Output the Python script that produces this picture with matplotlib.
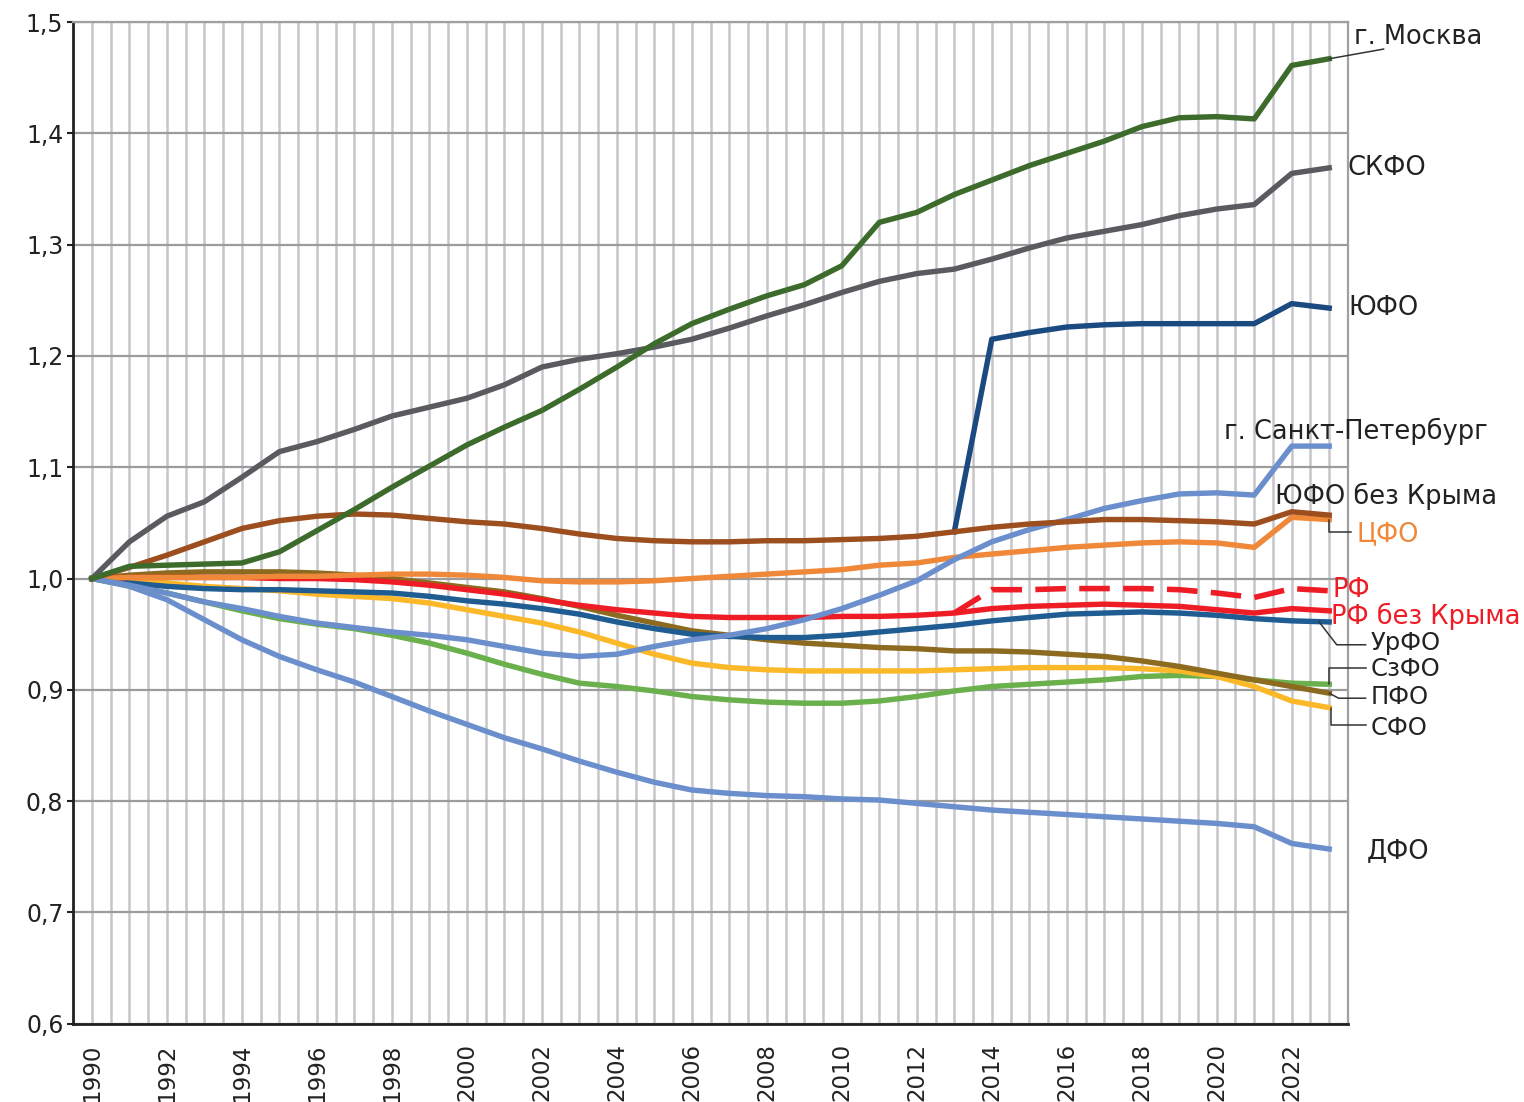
import numpy as np
import matplotlib
matplotlib.use("Agg")
import matplotlib.pyplot as plt
from matplotlib.ticker import MultipleLocator, FuncFormatter

plt.rcParams['font.family'] = ['DejaVu Sans']

years = list(range(1990, 2024))

# индексы численности населения, 1990 = 1
moscow = [1.000, 1.011, 1.012, 1.013, 1.014, 1.024, 1.043, 1.062, 1.082, 1.101, 1.120,
          1.136, 1.151, 1.170, 1.190, 1.211, 1.229, 1.242, 1.254, 1.264, 1.281,
          1.320, 1.329, 1.345, 1.358, 1.371, 1.382, 1.393, 1.406, 1.414, 1.415, 1.413, 1.461, 1.467]
skfo = [1.000, 1.033, 1.056, 1.069, 1.091, 1.114, 1.123, 1.134, 1.146, 1.154, 1.162,
        1.174, 1.190, 1.197, 1.202, 1.208, 1.215, 1.225, 1.236, 1.246, 1.257,
        1.267, 1.274, 1.278, 1.287, 1.297, 1.306, 1.312, 1.318, 1.326, 1.332, 1.336, 1.364, 1.369]
yufo = [None] * 23 + [1.042, 1.215, 1.221, 1.226, 1.228, 1.229, 1.229, 1.229, 1.229, 1.247, 1.243]
spb = [1.000, 0.994, 0.987, 0.979, 0.973, 0.966, 0.960, 0.956, 0.952, 0.949, 0.945,
       0.939, 0.933, 0.930, 0.932, 0.939, 0.945, 0.949, 0.955, 0.963, 0.973,
       0.985, 0.998, 1.017, 1.033, 1.044, 1.053, 1.063, 1.070, 1.076, 1.077, 1.075, 1.119, 1.119]
yufo_bk = [1.000, 1.010, 1.021, 1.033, 1.045, 1.052, 1.056, 1.058, 1.057, 1.054, 1.051,
           1.049, 1.045, 1.040, 1.036, 1.034, 1.033, 1.033, 1.034, 1.034, 1.035,
           1.036, 1.038, 1.042, 1.046, 1.049, 1.051, 1.053, 1.053, 1.052, 1.051, 1.049, 1.060, 1.057]
cfo = [1.000, 1.001, 1.001, 1.001, 1.001, 1.002, 1.002, 1.003, 1.004, 1.004, 1.003,
       1.001, 0.998, 0.997, 0.997, 0.998, 1.000, 1.002, 1.004, 1.006, 1.008,
       1.012, 1.014, 1.019, 1.022, 1.025, 1.028, 1.030, 1.032, 1.033, 1.032, 1.028, 1.055, 1.053]
rf = [None] * 23 + [0.969, 0.990, 0.990, 0.991, 0.991, 0.991, 0.990, 0.987, 0.983, 0.991, 0.989]
rf_bk = [1.000, 1.001, 1.001, 1.001, 1.001, 1.000, 1.000, 0.999, 0.997, 0.994, 0.990,
         0.986, 0.981, 0.976, 0.972, 0.969, 0.966, 0.965, 0.965, 0.965, 0.966,
         0.966, 0.967, 0.969, 0.973, 0.975, 0.976, 0.977, 0.976, 0.975, 0.972, 0.969, 0.973, 0.971]
urfo = [1.000, 0.996, 0.993, 0.991, 0.990, 0.990, 0.989, 0.988, 0.987, 0.984, 0.980,
        0.977, 0.973, 0.968, 0.961, 0.955, 0.950, 0.948, 0.947, 0.947, 0.949,
        0.952, 0.955, 0.958, 0.962, 0.965, 0.968, 0.969, 0.970, 0.969, 0.967, 0.964, 0.962, 0.961]
szfo = [1.000, 0.994, 0.987, 0.979, 0.971, 0.964, 0.959, 0.955, 0.949, 0.942, 0.933,
        0.923, 0.914, 0.906, 0.903, 0.899, 0.894, 0.891, 0.889, 0.888, 0.888,
        0.890, 0.894, 0.899, 0.903, 0.905, 0.907, 0.909, 0.912, 0.913, 0.912, 0.909, 0.906, 0.905]
pfo = [1.000, 1.003, 1.005, 1.006, 1.006, 1.006, 1.005, 1.003, 1.000, 0.996, 0.992,
       0.988, 0.982, 0.975, 0.967, 0.960, 0.953, 0.949, 0.945, 0.942, 0.940,
       0.938, 0.937, 0.935, 0.935, 0.934, 0.932, 0.930, 0.926, 0.921, 0.915, 0.909, 0.903, 0.897]
sfo = [1.000, 0.999, 0.996, 0.993, 0.991, 0.989, 0.986, 0.984, 0.982, 0.978, 0.972,
       0.966, 0.960, 0.952, 0.942, 0.932, 0.924, 0.920, 0.918, 0.917, 0.917,
       0.917, 0.917, 0.918, 0.919, 0.920, 0.920, 0.920, 0.919, 0.917, 0.912, 0.903, 0.890, 0.884]
dfo = [1.000, 0.993, 0.981, 0.963, 0.945, 0.930, 0.918, 0.907, 0.894, 0.881, 0.869,
       0.857, 0.847, 0.836, 0.826, 0.817, 0.810, 0.807, 0.805, 0.804, 0.802,
       0.801, 0.798, 0.795, 0.792, 0.790, 0.788, 0.786, 0.784, 0.782, 0.780, 0.777, 0.762, 0.757]

# (данные, цвет, пунктир) в порядке отрисовки
series = [
    (dfo, '#6b8fcc', False),
    (szfo, '#6ab04c', False),
    (sfo, '#fbb829', False),
    (pfo, '#8c6a1f', False),
    (urfo, '#1f5c91', False),
    (rf_bk, '#ee1c25', False),
    (rf, '#ee1c25', True),
    (cfo, '#f0883a', False),
    (spb, '#6b8fcc', False),
    (yufo, '#1b4a80', False),
    (yufo_bk, '#9c4e1e', False),
    (skfo, '#5a5b5f', False),
    (moscow, '#3c6b2b', False),
]

fig = plt.figure(figsize=(15.24, 11.02), dpi=100)
ax = fig.add_axes([0.048, 0.071, 0.8365, 0.909])

x = np.array(years, dtype=float)
for vals, color, dashed in series:
    y = np.array([np.nan if v is None else v for v in vals], dtype=float)
    if dashed:
        ax.plot(x, y, color=color, lw=4.0, dashes=(5.5, 2.4), solid_capstyle='butt', zorder=3)
    else:
        ax.plot(x, y, color=color, lw=3.9, solid_joinstyle='round', zorder=3)

ax.set_xlim(1989.5, 2023.5)
ax.set_ylim(0.6, 1.5)
ax.set_xticks(range(1990, 2023, 2))
ax.xaxis.set_minor_locator(MultipleLocator(0.5))
ax.yaxis.set_major_locator(MultipleLocator(0.1))
ax.yaxis.set_major_formatter(FuncFormatter(lambda v, p: f"{v:.1f}".replace('.', ',')))
ax.tick_params(axis='x', which='both', length=0, pad=14, labelsize=16.5, labelrotation=90,
               colors='#222222')
ax.tick_params(axis='y', length=4, width=1.5, pad=3, labelsize=17, colors='#222222')

ax.grid(True, axis='x', which='both', color='#c6c6ca', lw=1.8, zorder=0)
ax.grid(True, axis='y', which='major', color='#9c9c9c', lw=1.6, zorder=0)
ax.set_axisbelow(True)
for s in ['left', 'bottom']:
    ax.spines[s].set_color('#222222')
    ax.spines[s].set_linewidth(2)
for s in ['top', 'right']:
    ax.spines[s].set_color('#a0a0a0')
    ax.spines[s].set_linewidth(1.6)

# подписи рядов справа
lab_kw = dict(fontsize=18.5, va='center', clip_on=False, zorder=5)
small_kw = dict(fontsize=17.5, va='center', clip_on=False, zorder=5)
dark = '#222222'
ax.text(2023.65, 1.4865, 'г. Москва', color=dark, **lab_kw)
ax.text(2023.5, 1.369, 'СКФО', color=dark, **lab_kw)
ax.text(2023.5, 1.243, 'ЮФО', color=dark, **lab_kw)
ax.text(2020.2, 1.132, 'г. Санкт-Петербург', color=dark, **lab_kw)
ax.text(2021.55, 1.074, 'ЮФО без Крыма', color=dark, **lab_kw)
ax.text(2023.72, 1.040, 'ЦФО', color='#f0883a', **lab_kw)
ax.text(2023.1, 0.990, 'РФ', color='#ee1c25', **lab_kw)
ax.text(2023.05, 0.966, 'РФ без Крыма', color='#ee1c25', **lab_kw)
ax.text(2024.1, 0.9425, 'УрФО', color=dark, **small_kw)
ax.text(2024.1, 0.9185, 'СзФО', color=dark, **small_kw)
ax.text(2024.1, 0.8935, 'ПФО', color=dark, **small_kw)
ax.text(2024.1, 0.866, 'СФО', color=dark, **small_kw)
ax.text(2024.0, 0.755, 'ДФО', color=dark, **lab_kw)

# выноски
lead = dict(color='#333333', lw=1.1, clip_on=False, zorder=4)
xe = years[-1]
ax.plot([xe, 2024.45], [moscow[-1], 1.4757], **lead)
ax.plot([xe, xe, 2023.58], [cfo[-1], 1.042, 1.042], **lead)
ax.plot([xe - 0.27, 2023.2, 2023.97], [urfo[-1], 0.9405, 0.9405], **lead)
ax.plot([xe, xe, 2023.97], [szfo[-1], 0.9195, 0.9195], **lead)
ax.plot([xe, 2023.25, 2023.97], [pfo[-1], 0.8925, 0.8925], **lead)
ax.plot([xe + 0.05, xe + 0.05, 2023.97], [sfo[-1], 0.868, 0.868], **lead)

fig.savefig('out.png', dpi=100)
